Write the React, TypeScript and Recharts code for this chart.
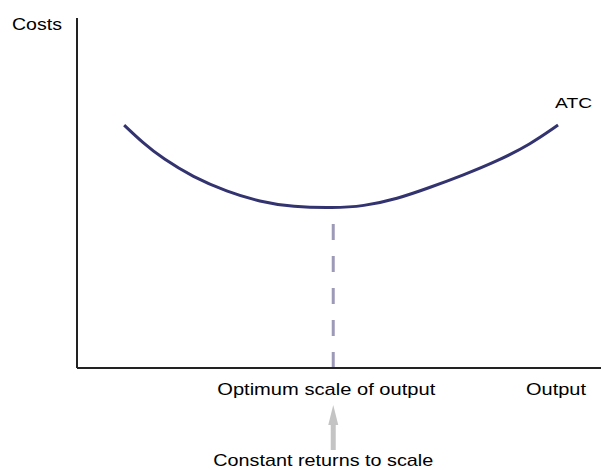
import {
  LineChart,
  Line,
  XAxis,
  YAxis,
  ReferenceLine,
  Label,
  LabelList,
} from "recharts";

// output quantity and average total cost
const output = [9, 12.6, 16.4, 22.1, 28.6, 34.9, 41.2, 48.9, 54.6, 61.1, 67.4, 73.7, 80.2, 86.5, 91.8];
const atc = [69.4, 64.3, 59.8, 54.6, 50.4, 47.5, 46.0, 45.7, 46.2, 48.3, 51.6, 55.1, 59.1, 63.9, 69.4];

const optimumQ = 48.9;
const minATC = 45.7;
const axisTicks = [optimumQ, 100];

const data = output.map((q, i) => ({ q, atc: atc[i] }));

const font = "'Liberation Sans', Arial, sans-serif";

const OutputTick = (props: any) => {
  const { x, y, payload } = props;
  if (payload.value === optimumQ) {
    return (
      <g>
        <text x={x - 7} y={y + 27} textAnchor="middle" fontFamily={font} fontSize={17} fill="#000" textLength={218} lengthAdjust="spacingAndGlyphs">
          Optimum scale of output
        </text>
        <rect x={x - 2.5} y={y + 54} width={5} height={28} fill="#c4c4c4" />
        <polygon points={`${x},${y + 37} ${x - 5},${y + 57} ${x + 5},${y + 57}`} fill="#c4c4c4" />
        <text x={x - 10} y={y + 98} textAnchor="middle" fontFamily={font} fontSize={17} fill="#000" textLength={220} lengthAdjust="spacingAndGlyphs">
          Constant returns to scale
        </text>
      </g>
    );
  }
  return (
    <text x={x - 3} y={y + 27} textAnchor="end" fontFamily={font} fontSize={17} fill="#000" textLength={60} lengthAdjust="spacingAndGlyphs">
      Output
    </text>
  );
};

const CostsLabel = (props: any) => {
  const { viewBox } = props;
  return (
    <text x={12} y={viewBox.y + 12} fontFamily={font} fontSize={17} fill="#000" textLength={50} lengthAdjust="spacingAndGlyphs">
      Costs
    </text>
  );
};

const AtcLabel = (props: any) => {
  const { x, y, index } = props;
  if (index !== output.length - 1) return null;
  return (
    <text x={x - 3} y={y - 17} fontFamily={font} fontSize={15} fill="#000" textLength={37} lengthAdjust="spacingAndGlyphs">
      ATC
    </text>
  );
};

export default function App() {
  return (
    <div style={{ position: "absolute", left: 0, top: 0, background: "#fff" }}>
      <LineChart width={601} height={470} data={data} margin={{ top: 18, right: 0, left: 0, bottom: 0 }}>
        <XAxis
          dataKey="q"
          type="number"
          domain={[0, 100]}
          ticks={axisTicks}
          tick={<OutputTick />}
          tickLine={false}
          tickSize={0}
          tickMargin={0}
          height={102}
          axisLine={{ stroke: "#222", strokeWidth: 2 }}
        />
        <YAxis
          type="number"
          domain={[0, 100]}
          tick={false}
          tickLine={false}
          width={77}
          axisLine={{ stroke: "#222", strokeWidth: 2 }}
        >
          <Label content={<CostsLabel />} />
        </YAxis>
        <ReferenceLine
          segment={[
            { x: optimumQ, y: 0 },
            { x: optimumQ, y: minATC },
          ]}
          stroke="#9c99b9"
          strokeWidth={3}
          strokeDasharray="16 16"
        />
        <Line
          type="basis"
          dataKey="atc"
          stroke="#33336f"
          strokeWidth={3}
          dot={false}
          isAnimationActive={false}
        >
          <LabelList dataKey="atc" content={<AtcLabel />} />
        </Line>
      </LineChart>
    </div>
  );
}
